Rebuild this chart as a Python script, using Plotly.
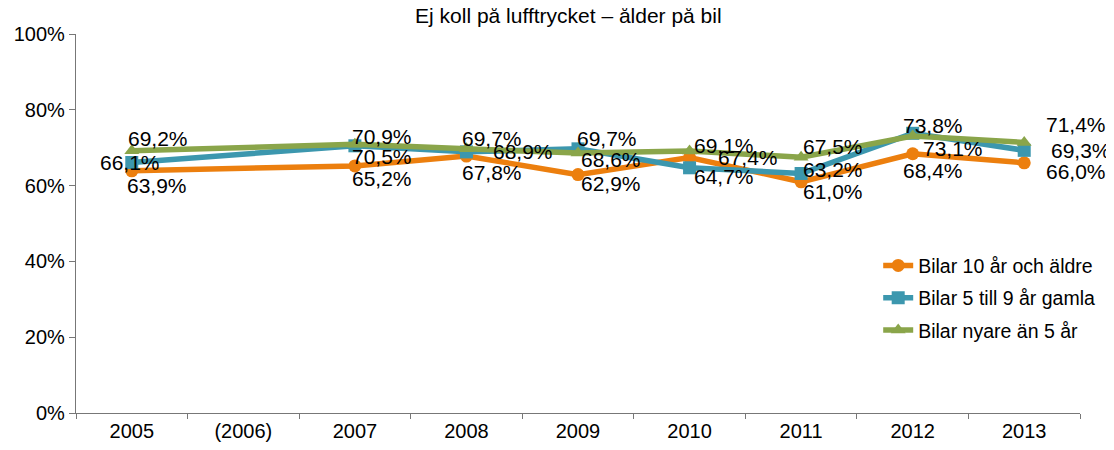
import plotly.graph_objects as go

years = ["2005", "(2006)", "2007", "2008", "2009", "2010", "2011", "2012", "2013"]
old_cars = [63.9, None, 65.2, 67.8, 62.9, 67.4, 61.0, 68.4, 66.0]
mid_cars = [66.1, None, 70.5, 68.9, 69.7, 64.7, 63.2, 73.8, 69.3]
new_cars = [69.2, None, 70.9, 69.7, 68.6, 69.1, 67.5, 73.1, 71.4]

names = ["Bilar 10 år och äldre", "Bilar 5 till 9 år gamla", "Bilar nyare än 5 år"]
colors = ["#EC7F0E", "#3C97AE", "#8AA54A"]
symbols = ["circle", "square", "triangle-up"]

# label offsets in pixels (dx right, dy down) relative to each point
off_old = [(25, 15), None, (27, 13), (26, 16), (33, 9), (58, 0), (32, 10), (20, 17), (52, 9)]
off_mid = [(-2, 0), None, (27, 11), (57, 0), (29, -10), (34, 9), (32, -4), (20, -8), (57, 0)]
off_new = [(26, -12), None, (27, -8), (26, -10), (33, 6), (34, -6), (32, -11), (40, 13), (52, -18)]

FONT = "Liberation Sans, Arial, Helvetica, sans-serif"

fig = go.Figure()
for k, (vals, name, col, sym) in enumerate(zip([old_cars, mid_cars, new_cars], names, colors, symbols)):
    fig.add_trace(go.Scatter(
        x=years, y=vals, name=name, mode="lines+markers",
        connectgaps=True, legendgroup=f"g{k}",
        line=dict(color=col, width=5.5),
        marker=dict(symbol=sym, size=13, color=col),
        cliponaxis=False,
    ))

for vals, offs in zip([old_cars, mid_cars, new_cars], [off_old, off_mid, off_new]):
    for i, (v, o) in enumerate(zip(vals, offs)):
        if v is None:
            continue
        fig.add_annotation(
            x=i, y=v, xref="x", yref="y", text=f"{v:.1f}%".replace(".", ","),
            showarrow=False, xanchor="center", yanchor="middle",
            xshift=o[0], yshift=-o[1],
            font=dict(family=FONT, size=21, color="#000000"),
        )

fig.update_layout(
    width=1114, height=450,
    margin=dict(l=68, r=42, t=26, b=45),
    paper_bgcolor="white", plot_bgcolor="white",
    font=dict(family=FONT, size=20, color="#000000"),
    title=dict(text="Ej koll på lufftrycket – ålder på bil", x=0.503, xanchor="center",
               y=1.0, yanchor="top", pad=dict(t=0, b=0),
               font=dict(size=21, family=FONT, color="#000000")),
    showlegend=True,
    legend=dict(x=0.799, y=0.44, xanchor="left", yanchor="top",
                bgcolor="rgba(0,0,0,0)", font=dict(size=19.5, family=FONT),
                tracegroupgap=4),
)
fig.update_xaxes(
    type="category", range=[-0.5, 8.5], tickson="boundaries", automargin=False,
    ticks="outside", ticklen=5, tickcolor="#777777",
    showline=True, linecolor="#777777", linewidth=1.3,
    showgrid=False, zeroline=False, tickfont=dict(size=20),
)
fig.update_yaxes(
    range=[0, 100], dtick=20, ticksuffix="%", automargin=False,
    ticks="outside", ticklen=6, tickcolor="#777777",
    showline=True, linecolor="#777777", linewidth=1.3,
    showgrid=False, zeroline=False, tickfont=dict(size=20),
)

fig.write_html("out.html")
